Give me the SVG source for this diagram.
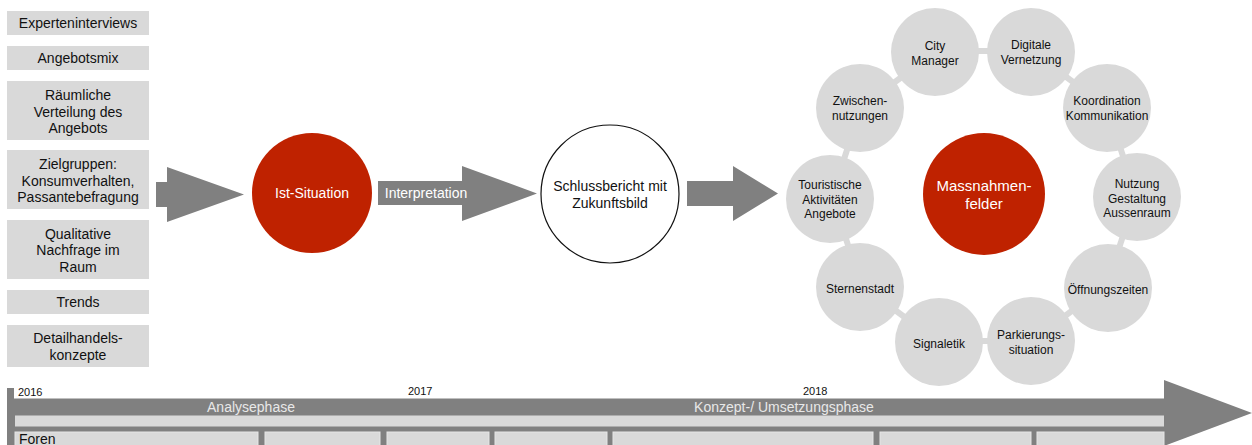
<svg xmlns="http://www.w3.org/2000/svg" width="1252" height="445" viewBox="0 0 1252 445">
<style>
text{font-family:"Liberation Sans",Arial,sans-serif;text-anchor:middle;fill:#111}
.box{fill:#d9d9d9}
.bt{font-size:14px}
.ct{font-size:12px}
.w{fill:#fff}
.ring{fill:#d9d9d9}
.red{fill:#bf2200}
.arr{fill:#808080}
.ln{stroke:#d9d9d9;stroke-width:6}
.slot{fill:#d9d9d9;stroke:#e6e6e6;stroke-width:1}
.yr{font-size:11px;text-anchor:start}
.ph{font-size:14px;fill:#e8e8e8}
</style>
<rect width="1252" height="445" fill="#fff"/>

<g id="left-boxes">
<g id="b1"><rect class="box" x="7" y="11" width="142" height="24"/><text class="bt" x="78" y="28">Experteninterviews</text></g>
<g id="b2"><rect class="box" x="7" y="46" width="142" height="24"/><text class="bt" x="78" y="63">Angebotsmix</text></g>
<g id="b3"><rect class="box" x="7" y="81" width="142" height="59"/><text class="bt" x="78" y="100">Räumliche<tspan x="78" dy="16.7">Verteilung des</tspan><tspan x="78" dy="16.7">Angebots</tspan></text></g>
<g id="b4"><rect class="box" x="7" y="150" width="142" height="59"/><text class="bt" x="78" y="169">Zielgruppen:<tspan x="78" dy="16.7">Konsumverhalten,</tspan><tspan x="78" dy="16.7">Passantebefragung</tspan></text></g>
<g id="b5"><rect class="box" x="7" y="220" width="142" height="59"/><text class="bt" x="78" y="238.5">Qualitative<tspan x="78" dy="16.7">Nachfrage im</tspan><tspan x="78" dy="16.7">Raum</tspan></text></g>
<g id="b6"><rect class="box" x="7" y="290" width="142" height="24"/><text class="bt" x="78" y="307">Trends</text></g>
<g id="b7"><rect class="box" x="7" y="325" width="142" height="42"/><text class="bt" x="78" y="343">Detailhandels-<tspan x="78" dy="16.7">konzepte</tspan></text></g>
</g>

<g id="connectors">
<polygon class="arr" points="156,182 167,182 167,167 244,194.5 167,222 167,207 156,207"/>
<polygon class="arr" points="378,181 462,181 462,166 537,193.5 462,221 462,205 378,205"/>
<polygon class="arr" points="687,181 733,181 733,166 778,193.5 733,221 733,206 687,206"/>
<g id="ring-links">
<line class="ln" x1="1136" y1="196" x2="1107" y2="285"/>
<line class="ln" x1="1107" y1="285" x2="1031" y2="341"/>
<line class="ln" x1="1031" y1="341" x2="937" y2="341"/>
<line class="ln" x1="937" y1="341" x2="861" y2="285"/>
<line class="ln" x1="861" y1="285" x2="832" y2="196"/>
<line class="ln" x1="832" y1="196" x2="861" y2="107"/>
<line class="ln" x1="861" y1="107" x2="937" y2="51"/>
<line class="ln" x1="937" y1="51" x2="1031" y2="51"/>
<line class="ln" x1="1031" y1="51" x2="1107" y2="107"/>
<line class="ln" x1="1107" y1="107" x2="1136" y2="196"/>
</g>
</g>
<text class="bt w" x="426" y="198">Interpretation</text>

<g id="ist"><circle class="red" cx="312" cy="193" r="60"/><text class="bt w" x="312" y="198">Ist-Situation</text></g>
<g id="schluss"><circle cx="610" cy="194" r="69" fill="#fff" stroke="#111" stroke-width="1.2"/><text class="bt" x="610" y="191">Schlussbericht mit<tspan x="610" dy="17">Zukunftsbild</tspan></text></g>

<g id="massnahmen"><circle class="red" cx="984" cy="194" r="61"/><text class="w" style="font-size:15px" x="984" y="191">Massnahmen-<tspan x="984" dy="18">felder</tspan></text></g>

<g id="n-nutzung"><circle class="ring" cx="1137" cy="197" r="44"/><text class="ct" x="1137" y="188">Nutzung<tspan x="1137" dy="14.5">Gestaltung</tspan><tspan x="1137" dy="14.5">Aussenraum</tspan></text></g>
<g id="n-oeffnung"><circle class="ring" cx="1108" cy="288" r="44"/><text class="ct" x="1108" y="294">Öffnungszeiten</text></g>
<g id="n-parkierung"><circle class="ring" cx="1031" cy="341" r="44"/><text class="ct" x="1031" y="339">Parkierungs-<tspan x="1031" dy="15">situation</tspan></text></g>
<g id="n-signaletik"><circle class="ring" cx="939" cy="342" r="44"/><text class="ct" x="939" y="348">Signaletik</text></g>
<g id="n-sternenstadt"><circle class="ring" cx="860" cy="287" r="44"/><text class="ct" x="860" y="293">Sternenstadt</text></g>
<g id="n-touristische"><circle class="ring" cx="830" cy="199" r="44"/><text class="ct" x="830" y="189">Touristische<tspan x="830" dy="14.5">Aktivitäten</tspan><tspan x="830" dy="14.5">Angebote</tspan></text></g>
<g id="n-zwischen"><circle class="ring" cx="860" cy="108" r="44"/><text class="ct" x="860" y="105">Zwischen-<tspan x="860" dy="15">nutzungen</tspan></text></g>
<g id="n-city"><circle class="ring" cx="935" cy="52" r="44"/><text class="ct" x="935" y="50">City<tspan x="935" dy="15">Manager</tspan></text></g>
<g id="n-digitale"><circle class="ring" cx="1031" cy="52" r="44"/><text class="ct" x="1031" y="49">Digitale<tspan x="1031" dy="15">Vernetzung</tspan></text></g>
<g id="n-koordination"><circle class="ring" cx="1107" cy="108" r="44"/><text class="ct" x="1107" y="105">Koordination<tspan x="1107" dy="15">Kommunikation</tspan></text></g>

<g id="timeline">
<polygon class="arr" points="7,388 14,388 14,398.5 1164,398.5 1164,380 1252,413 1164,446 7,446"/>
<rect x="15" y="415.5" width="1149" height="11" fill="#d9d9d9"/>
<rect class="slot" x="15" y="432" width="243" height="16"/>
<rect class="slot" x="265" y="432" width="115" height="16"/>
<rect class="slot" x="387" y="432" width="102" height="16"/>
<rect class="slot" x="495" y="432" width="112" height="16"/>
<rect class="slot" x="613" y="432" width="260" height="16"/>
<rect class="slot" x="880" y="432" width="151" height="16"/>
<rect class="slot" x="1037" y="432" width="127" height="16"/>
<text class="yr" x="18" y="396">2016</text>
<text class="yr" x="408" y="395">2017</text>
<text class="yr" x="803" y="395">2018</text>
<text class="ph" x="251" y="412">Analysephase</text>
<text class="ph" x="784" y="412">Konzept-/ Umsetzungsphase</text>
<text class="bt" x="19" y="444" style="text-anchor:start">Foren</text>
</g>
</svg>
